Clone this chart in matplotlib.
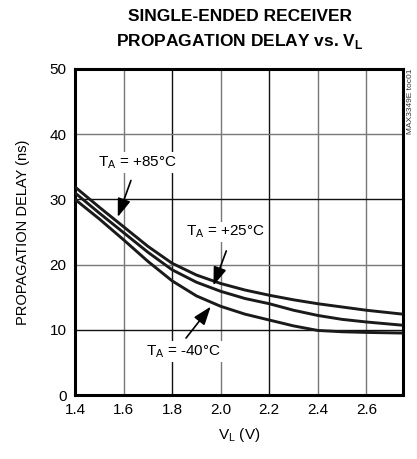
import numpy as np
import matplotlib
matplotlib.use("Agg")
import matplotlib.pyplot as plt

plt.rcParams['font.family'] = ['Liberation Sans Narrow', 'Liberation Sans', 'DejaVu Sans']

# values
vl = [1.4, 1.5, 1.6, 1.7, 1.8, 1.9, 2.0, 2.1, 2.2, 2.3, 2.4, 2.5, 2.6, 2.75]
delay_85 = [31.9, 28.8, 25.8, 22.8, 20.2, 18.4, 17.1, 16.1, 15.3, 14.6, 14.0, 13.5, 13.0, 12.4]
delay_25 = [31.0, 27.9, 24.9, 21.9, 19.2, 17.3, 15.9, 14.8, 14.0, 13.0, 12.2, 11.6, 11.2, 10.7]
delay_m40 = [30.0, 27.0, 23.8, 20.5, 17.5, 15.2, 13.6, 12.4, 11.5, 10.6, 9.9, 9.7, 9.6, 9.5]

xticks = [1.4, 1.6, 1.8, 2.0, 2.2, 2.4, 2.6]
yticks = [0, 10, 20, 30, 40, 50]

fig = plt.figure(figsize=(4.17, 4.59), dpi=100)
ax = fig.add_axes([0.18, 0.1394, 0.786, 0.7103])

# grid, alternating darkness like the scan
grid_cols = ['#777777', '#111111', '#777777', '#111111', '#777777', '#777777']
for x, c in zip(xticks[1:], grid_cols):
    ax.axvline(x, color=c, lw=1.0, zorder=1)
for y, c in zip([10, 20, 30, 40], ['#111111', '#777777', '#111111', '#777777']):
    ax.axhline(y, color=c, lw=1.0, zorder=1)

for d in (delay_85, delay_25, delay_m40):
    ax.plot(vl, d, color='#1a1a1a', lw=2.1, solid_capstyle='butt', zorder=3)

ax.set_xlim(1.4, 2.75)
ax.set_ylim(0, 50)
ax.set_xticks(xticks)
ax.set_xticklabels(['1.4', '1.6', '1.8', '2.0', '2.2', '2.4', '2.6'])
ax.set_yticks(yticks)
ax.tick_params(length=0, labelsize=11, pad=6)
for s in ax.spines.values():
    s.set_linewidth(2.2)
    s.set_color('black')

ax.set_xlabel('V$_\\mathregular{L}$ (V)', fontsize=11, labelpad=6)
ax.set_ylabel('PROPAGATION DELAY (ns)', fontsize=10.5, labelpad=14)

box = dict(facecolor='white', edgecolor='none', pad=1.5)
ax.text(1.655, 35.6, 'T$_\\mathregular{A}$ = +85°C', fontsize=11, ha='center', va='center', bbox=box, zorder=4)
ax.text(2.02, 25.0, 'T$_\\mathregular{A}$ = +25°C', fontsize=11, ha='center', va='center', bbox=box, zorder=4)
ax.text(1.845, 6.6, 'T$_\\mathregular{A}$ = -40°C', fontsize=11, ha='center', va='center', bbox=box, zorder=4)

arrow = dict(arrowstyle='-|>,head_length=0.7,head_width=0.25', color='black', lw=1.2, mutation_scale=16)
ax.annotate('', xy=(1.572, 26.9), xytext=(1.634, 33.3), arrowprops=arrow, zorder=5)
ax.annotate('', xy=(1.966, 16.4), xytext=(2.027, 22.5), arrowprops=arrow, zorder=5)
ax.annotate('', xy=(1.966, 13.9), xytext=(1.85, 8.4), arrowprops=arrow, zorder=5)

fig.text(0.575, 0.965, 'SINGLE-ENDED RECEIVER', fontsize=12.5, fontweight='bold', ha='center', va='center')
fig.text(0.575, 0.91, 'PROPAGATION DELAY vs. V$_\\mathregular{L}$', fontsize=12.5, fontweight='bold', ha='center', va='center')
fig.text(0.984, 0.85, 'MAX3349E toc01', fontsize=6, rotation=90, ha='center', va='top', color='#333333')

fig.savefig('out.png', dpi=100)
